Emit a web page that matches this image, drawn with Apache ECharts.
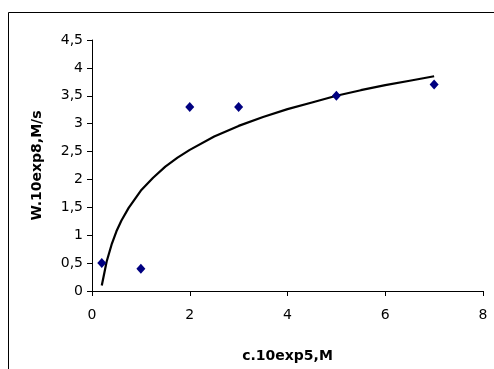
<!DOCTYPE html>
<html>
<head>
<meta charset="utf-8">
<script src="https://cdn.jsdelivr.net/npm/echarts@6/dist/echarts.min.js"></script>
<style>
  html, body { margin: 0; padding: 0; background: #fff; }
  #chart { width: 494px; height: 369px; }
</style>
</head>
<body>
<div id="chart"></div>
<script>
// measured points (c.10exp5, W.10exp8)
const pointsX = [0.2, 1, 2, 3, 5, 7];
const pointsY = [0.5, 0.4, 3.3, 3.3, 3.5, 3.7];

// trend curve
const trendX = [0.2, 0.3, 0.4, 0.5, 0.6, 0.75, 1, 1.25, 1.5, 1.75, 2, 2.5, 3, 3.5, 4, 4.5, 5, 5.5, 6, 6.5, 7];
const trendY = [0.10, 0.53, 0.83, 1.07, 1.26, 1.49, 1.80, 2.03, 2.23, 2.39, 2.53, 2.77, 2.96, 3.12, 3.26, 3.38, 3.50, 3.60, 3.69, 3.77, 3.85];

const chart = echarts.init(document.getElementById("chart"), null, { renderer: "canvas" });

const FONT = "DejaVu Sans";

chart.setOption({
  animation: false,
  backgroundColor: "#fff",
  textStyle: { fontFamily: FONT },
  grid: { left: 92, right: 11, top: 40, bottom: 78 },
  graphic: [
    {
      type: "rect",
      shape: { x: 8.5, y: 12.5, width: 500, height: 400 },
      style: { fill: "none", stroke: "#000", lineWidth: 1 },
      silent: true
    }
  ],
  xAxis: {
    type: "value",
    min: 0,
    max: 8,
    interval: 2,
    name: "c.10exp5,M",
    nameLocation: "middle",
    nameGap: 58,
    nameTextStyle: { color: "#000", fontSize: 14, fontWeight: "bold", fontFamily: FONT },
    axisLine: { lineStyle: { color: "#000", width: 1 } },
    axisTick: { show: true, length: 5, lineStyle: { color: "#000" } },
    axisLabel: { color: "#000", fontSize: 14, margin: 17, fontFamily: FONT },
    splitLine: { show: false }
  },
  yAxis: {
    type: "value",
    min: 0,
    max: 4.5,
    interval: 0.5,
    name: "W.10exp8,M/s",
    nameLocation: "middle",
    nameGap: 48,
    nameTextStyle: { color: "#000", fontSize: 14, fontWeight: "bold", fontFamily: FONT },
    axisLine: { show: true, lineStyle: { color: "#000", width: 1 } },
    axisTick: { show: true, length: 5, lineStyle: { color: "#000" } },
    axisLabel: {
      color: "#000",
      fontSize: 14,
      margin: 9,
      fontFamily: FONT,
      formatter: (v) => String(v).replace(".", ",")
    },
    splitLine: { show: false }
  },
  series: [
    {
      type: "line",
      data: trendX.map((x, i) => [x, trendY[i]]),
      showSymbol: false,
      symbol: "none",
      smooth: false,
      lineStyle: { color: "#000", width: 2.2 },
      z: 2
    },
    {
      type: "scatter",
      data: pointsX.map((x, i) => [x, pointsY[i]]),
      symbol: "diamond",
      symbolSize: [9, 10],
      itemStyle: { color: "#000080", opacity: 1 },
      z: 3
    }
  ]
});
</script>
</body>
</html>
